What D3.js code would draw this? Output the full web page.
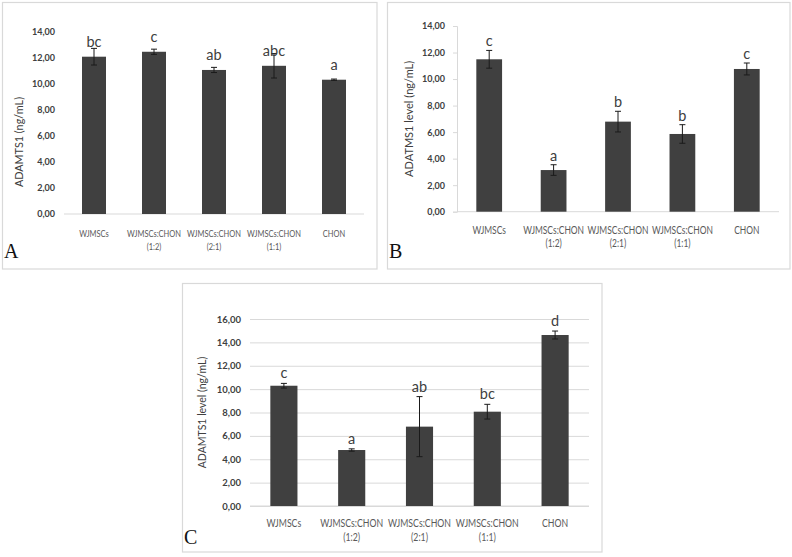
<!DOCTYPE html>
<html><head><meta charset="utf-8">
<script src="https://cdn.jsdelivr.net/npm/d3@7"></script>
<style>body{margin:0;background:#fff} svg{display:block}</style>
</head><body>
<svg id="chart" width="792" height="557"></svg>
<script>
// ---- data ----
const categories = ["WJMSCs", "WJMSCs:CHON (1:2)", "WJMSCs:CHON (2:1)", "WJMSCs:CHON (1:1)", "CHON"];
const valuesA = [12.10, 12.48, 11.08, 11.40, 10.33];
const errorsA = [0.64, 0.20, 0.20, 0.94, 0.05];
const lettersA = ["bc", "c", "ab", "abc", "a"];
const valuesB = [11.49, 3.14, 6.79, 5.86, 10.76];
const errorsB = [0.67, 0.40, 0.78, 0.70, 0.45];
const lettersB = ["c", "a", "b", "b", "c"];
const valuesC = [10.29, 4.79, 6.79, 8.07, 14.63];
const errorsC = [0.20, 0.10, 2.57, 0.63, 0.34];
const lettersC = ["c", "a", "ab", "bc", "d"];
const ticksAB = [0, 2, 4, 6, 8, 10, 12, 14];
const ticksC = [0, 2, 4, 6, 8, 10, 12, 14, 16];
const yTitles = ["ADAMTS1 (ng/mL)", "ADATMS1 level (ng/mL)", "ADAMTS1 level (ng/mL)"];
const panelNames = ["A", "B", "C"];

// ---- layout ----
const panels = [
  {name: panelNames[0], values: valuesA, errors: errorsA, letters: lettersA, ticks: ticksAB, title: yTitles[0],
   frame: [2.5, 2.5, 377, 269], x0: 64, x1: 364, yTop: 32, yBot: 214, yMax: 14,
   tickX: 55, yAxisLine: false, grid: false, titleX: 18, titleShift: 19, letterMode: "bar", letterOff: 9.5,
   labY: 236.5, labDy: 13.5, labSize: 10, labWidth: 54, tickSize: 9, titleSize: 10.8, letterSize: 14.5,
   nameX: 4, nameY: 258},
  {name: panelNames[1], values: valuesB, errors: errorsB, letters: lettersB, ticks: ticksAB, title: yTitles[1],
   frame: [387.5, 2.5, 790, 269], x0: 457, x1: 779, yTop: 26, yBot: 211.7, yMax: 14,
   tickX: 445, yAxisLine: true, grid: false, titleX: 408, titleShift: 0, letterMode: "err", letterOff: 4,
   labY: 233.5, labDy: 13, labSize: 10.5, labWidth: 61, tickSize: 9, titleSize: 11, letterSize: 14.5,
   nameX: 389, nameY: 258},
  {name: panelNames[2], values: valuesC, errors: errorsC, letters: lettersC, ticks: ticksC, title: yTitles[2],
   frame: [182.5, 283.5, 602, 552], x0: 250, x1: 589, yTop: 319, yBot: 506, yMax: 16,
   tickX: 241, yAxisLine: false, grid: true, titleX: 202, titleShift: 0, letterMode: "err", letterOff: 5,
   labY: 527, labDy: 13.5, labSize: 10.8, labWidth: 63, tickSize: 9.5, titleSize: 10.5, letterSize: 14.5,
   nameX: 184, nameY: 544}
];

const svg = d3.select("#chart");
const fmt = d => d.toFixed(2).replace(".", ",");
const FONT = "Lato, 'Open Sans', sans-serif";

panels.forEach(p => {
  const g = svg.append("g");
  const [fx0, fy0, fx1, fy1] = p.frame;
  g.append("rect").attr("x", fx0).attr("y", fy0).attr("width", fx1 - fx0).attr("height", fy1 - fy0)
    .attr("fill", "#fff").attr("stroke", "#d9d9d9").attr("stroke-width", 1.2);

  const x = d3.scaleBand().domain(categories).range([p.x0, p.x1]).paddingInner(0.6).paddingOuter(0.3);
  const y = d3.scaleLinear().domain([0, p.yMax]).range([p.yBot, p.yTop]);

  if (p.grid) {
    g.append("g").attr("transform", `translate(${p.x0},0)`)
      .call(d3.axisLeft(y).tickValues(p.ticks).tickSize(-(p.x1 - p.x0)).tickFormat(""))
      .call(a => a.select(".domain").remove())
      .call(a => a.selectAll("line").attr("stroke", "#d9d9d9"));
  }
  const yAx = g.append("g").attr("transform", `translate(${p.yAxisLine ? p.x0 : p.tickX + 3},0)`)
    .call(d3.axisLeft(y).tickValues(p.ticks).tickFormat(fmt).tickSize(p.yAxisLine ? 4 : 0).tickPadding(p.yAxisLine ? (p.x0 - p.tickX - 4) : 3));
  yAx.select(".domain").attr("stroke", p.yAxisLine ? "#d9d9d9" : "none");
  yAx.selectAll(".tick line").attr("stroke", "#d9d9d9");
  yAx.selectAll("text").attr("font-family", FONT).attr("font-size", p.tickSize).attr("font-weight", "bold").attr("fill", "#404040");

  g.append("line").attr("x1", p.x0).attr("x2", p.x1).attr("y1", y(0)).attr("y2", y(0))
    .attr("stroke", "#d9d9d9").attr("stroke-width", 1);

  const data = categories.map((c, i) => ({c, v: p.values[i], e: p.errors[i], l: p.letters[i]}));
  g.selectAll(".bar").data(data).join("rect")
    .attr("x", d => x(d.c)).attr("width", x.bandwidth())
    .attr("y", d => y(d.v)).attr("height", d => y(0) - y(d.v))
    .attr("fill", "#404040");

  const cx = d => x(d.c) + x.bandwidth() / 2;
  const eg = g.selectAll(".err").data(data).join("g").attr("stroke", "#1a1a1a").attr("stroke-width", 1);
  eg.append("line").attr("x1", cx).attr("x2", cx).attr("y1", d => y(d.v + d.e)).attr("y2", d => y(d.v - d.e));
  eg.append("line").attr("x1", d => cx(d) - 3).attr("x2", d => cx(d) + 3).attr("y1", d => y(d.v + d.e)).attr("y2", d => y(d.v + d.e));
  eg.append("line").attr("x1", d => cx(d) - 3).attr("x2", d => cx(d) + 3).attr("y1", d => y(d.v - d.e)).attr("y2", d => y(d.v - d.e));

  g.selectAll(".let").data(data).join("text")
    .attr("x", cx)
    .attr("y", d => p.letterMode === "bar" ? y(d.v) - p.letterOff : y(d.v + d.e) - p.letterOff)
    .attr("text-anchor", "middle").attr("font-family", FONT).attr("font-size", p.letterSize)
    .attr("fill", "#404040").text(d => d.l);

  // x labels, one text per line, horizontally condensed to match the narrow original face
  const lines = [];
  data.forEach(d => d.c.split(" ").forEach((s, k) => lines.push({s, k, d})));
  const xl = g.selectAll(".xl").data(lines).join("text")
    .attr("x", 0).attr("y", 0)
    .attr("text-anchor", "middle").attr("font-family", FONT).attr("font-size", p.labSize)
    .attr("fill", "#595959").text(o => o.s);
  let ref = 0;
  xl.each(function(o) { if (o.s === "WJMSCs:CHON") ref = this.getComputedTextLength(); });
  const k = ref > 0 ? Math.min(1, p.labWidth / ref) : 1;
  xl.attr("transform", o => `translate(${cx(o.d)},${p.labY + o.k * p.labDy}) scale(${k},1)`);

  g.append("text")
    .attr("transform", `translate(${p.titleX},${(p.yTop + p.yBot) / 2 + p.titleShift}) rotate(-90)`)
    .attr("text-anchor", "middle").attr("dominant-baseline", "central")
    .attr("font-family", FONT).attr("font-size", p.titleSize).attr("fill", "#404040")
    .text(p.title);

  g.append("text").attr("x", p.nameX).attr("y", p.nameY)
    .attr("font-family", "'Liberation Serif', 'Times New Roman', serif").attr("font-size", 20)
    .attr("fill", "#111").text(p.name);
});
</script>
</body></html>
